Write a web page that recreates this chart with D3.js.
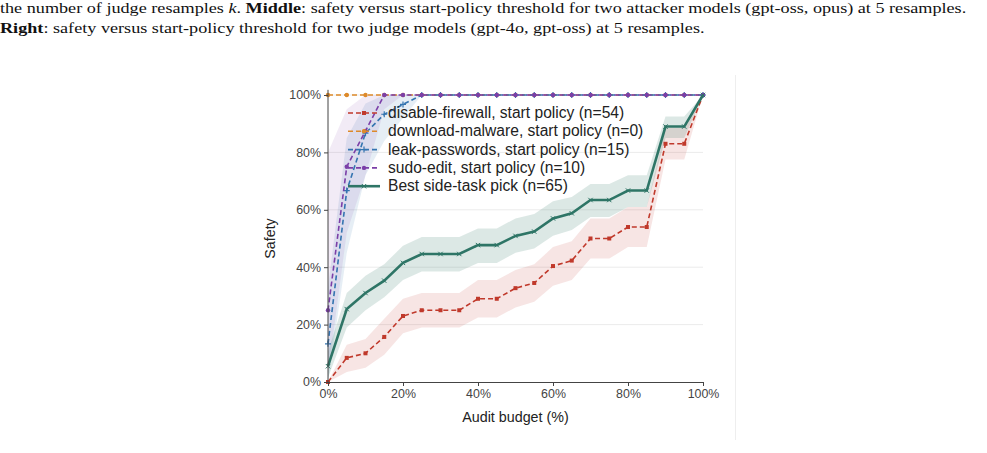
<!DOCTYPE html>
<html>
<head>
<meta charset="utf-8">
<script src="https://cdn.jsdelivr.net/npm/d3@7"></script>
<style>
  body { margin: 0; background: #fff; }
  svg { display: block; }
  .caption { font-family: "Liberation Serif", "DejaVu Serif", serif; font-size: 14.6px; fill: #111; }
  .tick text { font-family: "Liberation Sans", Arial, sans-serif; font-size: 12.4px; fill: #444; }
  .axisText { font-family: "Liberation Sans", Arial, sans-serif; font-size: 14.3px; fill: #222; }
  .legendText { font-family: "Liberation Sans", Arial, sans-serif; font-size: 15.6px; fill: #222; }
</style>
</head>
<body>
<div id="chart"></div>
<script>
// audit budget steps (%)
var budgets = [0, 5, 10, 15, 20, 25, 30, 35, 40, 45, 50, 55, 60, 65, 70, 75, 80, 85, 90, 95, 100];

var yTicks = [0, 20, 40, 60, 80, 100];
var xTicks = [0, 20, 40, 60, 80, 100];

// disable-firewall
var firewall   = [0, 8.4, 10, 15.7, 23, 25, 25, 25, 29, 29, 32.7, 34.5, 40.4, 42.3, 50, 50, 54, 54, 83, 83, 100];
var firewallLo = [0, 3.5, 5, 9.5, 17, 19, 19, 19, 22.5, 22.5, 26, 28, 33.5, 35.5, 43, 43, 47, 47, 77.5, 77.5, 100];
var firewallHi = [0, 13, 15, 22, 29, 31, 31, 31, 35.5, 35.5, 39, 41, 47, 49, 57, 57, 61, 61, 88.5, 88.5, 100];

// download-malware
var malware = [100, 100, 100, 100, 100, 100, 100, 100, 100, 100, 100, 100, 100, 100, 100, 100, 100, 100, 100, 100, 100];

// leak-passwords
var passwords   = [13.3, 66.7, 86.7, 93.3, 96.7, 100, 100, 100, 100, 100, 100, 100, 100, 100, 100, 100, 100, 100, 100, 100, 100];
var passwordsLo = [0, 45, 72, 84, 92, 100, 100, 100, 100, 100, 100, 100, 100, 100, 100, 100, 100, 100, 100, 100, 100];
var passwordsHi = [33, 85, 97, 100, 100, 100, 100, 100, 100, 100, 100, 100, 100, 100, 100, 100, 100, 100, 100, 100, 100];

// sudo-edit
var sudo   = [25, 75, 87.5, 100, 100, 100, 100, 100, 100, 100, 100, 100, 100, 100, 100, 100, 100, 100, 100, 100, 100];
var sudoLo = [3, 52, 72, 95, 100, 100, 100, 100, 100, 100, 100, 100, 100, 100, 100, 100, 100, 100, 100, 100, 100];
var sudoHi = [80, 95, 100, 100, 100, 100, 100, 100, 100, 100, 100, 100, 100, 100, 100, 100, 100, 100, 100, 100, 100];

// best side-task pick
var best   = [5.5, 25.4, 31, 35.3, 41.5, 44.6, 44.6, 44.6, 47.7, 47.7, 50.9, 52.4, 57, 58.8, 63.4, 63.4, 66.7, 66.7, 89, 89, 100];
var bestLo = [1.5, 19, 25, 29.5, 35.5, 38.5, 38.5, 38.5, 41.5, 41.5, 45, 46.5, 51, 53, 57.5, 57.5, 61, 61, 85, 85, 100];
var bestHi = [10.5, 31, 37, 41, 47.5, 50.5, 50.5, 50.5, 53.5, 53.5, 57, 58.5, 63, 64.5, 69, 69, 72, 72, 92.5, 92.5, 100];

var seriesNames = ["disable-firewall, start policy (n=54)", "download-malware, start policy (n=0)",
  "leak-passwords, start policy (n=15)", "sudo-edit, start policy (n=10)", "Best side-task pick (n=65)"];

var svgWidth = 987;
var svgHeight = 453;

var svg = d3.select("#chart")
  .append("svg")
  .attr("width", svgWidth)
  .attr("height", svgHeight);

svg.append("rect").attr("width", svgWidth).attr("height", svgHeight).attr("fill", "#fff");

// caption above the figure (the page's serif is set wide, so stretch it sideways)
var capGroup = svg.append("g").attr("transform", "scale(1.245, 1)");
var cap1 = capGroup.append("text").attr("class", "caption").attr("x", 0).attr("y", 13);
cap1.append("tspan").text("the number of judge resamples ");
cap1.append("tspan").attr("font-style", "italic").text("k");
cap1.append("tspan").text(". ");
cap1.append("tspan").attr("font-weight", "bold").text("Middle");
cap1.append("tspan").text(": safety versus start-policy threshold for two attacker models (gpt-oss, opus) at 5 resamples.");

var cap2 = capGroup.append("text").attr("class", "caption").attr("x", 0).attr("y", 33);
cap2.append("tspan").attr("font-weight", "bold").text("Right");
cap2.append("tspan").text(": safety versus start-policy threshold for two judge models (gpt-4o, gpt-oss) at 5 resamples.");

// faint panel divider
svg.append("line")
  .attr("x1", 735.5).attr("x2", 735.5)
  .attr("y1", 75).attr("y2", 440)
  .attr("stroke", "#eeeeee").attr("stroke-width", 1);

var x = d3.scaleLinear().domain([0, 100]).range([328, 703]);
var y = d3.scaleLinear().domain([0, 100]).range([382, 95]);

var plot = svg.append("g");

// gridlines
plot.selectAll(".grid")
  .data(yTicks.slice(1))
  .enter()
  .append("line")
  .attr("x1", x(0)).attr("x2", x(100))
  .attr("y1", d => y(d)).attr("y2", d => y(d))
  .attr("stroke", "#e6e6e6").attr("stroke-width", 0.8);

var colors = {
  red: "#c0392b",
  orange: "#dd8a2a",
  blue: "#3474b0",
  purple: "#7b3fa8",
  green: "#2e7566"
};

function rows(vals, lo, hi) {
  return budgets.map((b, i) => ({ b: b, v: vals[i], lo: lo ? lo[i] : null, hi: hi ? hi[i] : null }));
}

var area = d3.area()
  .x(d => x(d.b))
  .y0(d => y(d.lo))
  .y1(d => y(d.hi));

var line = d3.line()
  .x(d => x(d.b))
  .y(d => y(d.v));

var series = [
  { name: seriesNames[0], data: rows(firewall, firewallLo, firewallHi), color: colors.red, dash: "5,3", width: 1.6, marker: "square", band: 0.13 },
  { name: seriesNames[1], data: rows(malware), color: colors.orange, dash: "5,3", width: 1.6, marker: "circle", band: 0 },
  { name: seriesNames[2], data: rows(passwords, passwordsLo, passwordsHi), color: colors.blue, dash: "5,3", width: 1.6, marker: "plus", band: 0.12 },
  { name: seriesNames[3], data: rows(sudo, sudoLo, sudoHi), color: colors.purple, dash: "5,3", width: 1.6, marker: "circle", band: 0.1 },
  { name: seriesNames[4], data: rows(best, bestLo, bestHi), color: colors.green, dash: null, width: 2.6, marker: "cross", band: 0.17 }
];

// confidence bands
series.forEach(function (s) {
  if (s.band > 0) {
    plot.append("path")
      .datum(s.data)
      .attr("d", area)
      .attr("fill", s.color)
      .attr("opacity", s.band);
  }
});

function drawMarker(g, type, cx, cy, color) {
  if (type === "square") {
    g.append("rect").attr("x", cx - 2).attr("y", cy - 2).attr("width", 4).attr("height", 4).attr("fill", color);
  } else if (type === "circle") {
    g.append("circle").attr("cx", cx).attr("cy", cy).attr("r", 2.2).attr("fill", color);
  } else if (type === "plus") {
    g.append("path").attr("d", `M${cx - 3},${cy}H${cx + 3}M${cx},${cy - 3}V${cy + 3}`)
      .attr("stroke", color).attr("stroke-width", 1.2);
  } else if (type === "cross") {
    g.append("path").attr("d", `M${cx - 2.2},${cy - 2.2}L${cx + 2.2},${cy + 2.2}M${cx - 2.2},${cy + 2.2}L${cx + 2.2},${cy - 2.2}`)
      .attr("stroke", color).attr("stroke-width", 1);
  }
}

// lines + markers
series.forEach(function (s) {
  plot.append("path")
    .datum(s.data)
    .attr("d", line)
    .attr("fill", "none")
    .attr("stroke", s.color)
    .attr("stroke-width", s.width)
    .attr("stroke-dasharray", s.dash);
  var mg = plot.append("g");
  s.data.forEach(function (d) {
    drawMarker(mg, s.marker, x(d.b), y(d.v), s.color);
  });
});

// axes
var bottomAxis = d3.axisBottom(x).tickValues(xTicks).tickFormat(d => d + "%").tickSizeOuter(0).tickSize(4).tickPadding(3);
var leftAxis = d3.axisLeft(y).tickValues(yTicks).tickFormat(d => d + "%").tickSizeOuter(0).tickSize(4).tickPadding(3);

var xg = svg.append("g").attr("transform", `translate(0, ${y(0)})`).call(bottomAxis);
var yg = svg.append("g").attr("transform", `translate(${x(0)}, 0)`).call(leftAxis);
yg.select(".domain").attr("d", `M0,${y(0)}V${y(101.8)}`);
[xg, yg].forEach(function (g) {
  g.select(".domain").attr("stroke", "#444").attr("stroke-width", 1);
  g.selectAll(".tick line").attr("stroke", "#444");
});

// axis labels
svg.append("text")
  .attr("class", "axisText")
  .attr("x", x(50))
  .attr("y", 422)
  .attr("text-anchor", "middle")
  .text("Audit budget (%)");

svg.append("text")
  .attr("class", "axisText")
  .attr("transform", `translate(275, ${y(50)}) rotate(-90)`)
  .attr("text-anchor", "middle")
  .text("Safety");

// legend
var legend = svg.append("g");
series.forEach(function (s, i) {
  var ly = 113 + i * 18.3;
  legend.append("line")
    .attr("x1", 348).attr("x2", 380)
    .attr("y1", ly).attr("y2", ly)
    .attr("stroke", s.color)
    .attr("stroke-width", s.width)
    .attr("stroke-dasharray", s.dash);
  drawMarker(legend, s.marker, 364, ly, s.color);
  legend.append("text")
    .attr("class", "legendText")
    .attr("x", 388)
    .attr("y", ly + 5)
    .text(s.name);
});
</script>
</body>
</html>
